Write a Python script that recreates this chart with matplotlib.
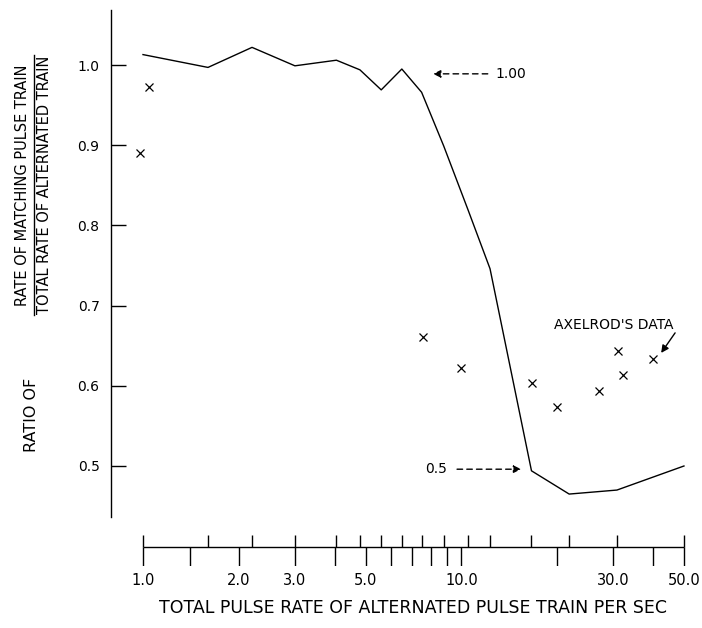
import matplotlib
matplotlib.use("Agg")
import matplotlib.pyplot as plt
from matplotlib.lines import Line2D

# curve: ratio of matching rate vs total alternated pulse rate
pulse_rate = [1.0, 1.6, 2.2, 3.0, 4.05, 4.8, 5.6, 6.5, 7.5, 8.8, 10.5, 12.3, 16.6, 21.8, 30.8, 50.0]
ratio = [1.013, 0.997, 1.022, 0.999, 1.006, 0.994, 0.969, 0.995, 0.966, 0.899, 0.819, 0.746, 0.494, 0.465, 0.470, 0.500]

# Axelrod's data points
axelrod_rate = [0.98, 1.044, 7.6, 10.0, 16.7, 20.0, 27.1, 31.1, 32.2, 40.1]
axelrod_ratio = [0.890, 0.972, 0.661, 0.622, 0.604, 0.574, 0.593, 0.643, 0.613, 0.633]

# lower scale ticks
down_ticks = [1.0, 1.4, 2.0, 3.0, 4.0, 5.0, 6.0, 7.0, 8.0, 9.0, 10.0, 20.0, 30.0, 40.0, 50.0]
label_ticks = [1.0, 2.0, 3.0, 5.0, 10.0, 30.0, 50.0]
label_text = ["1.0", "2.0", "3.0", "5.0", "10.0", "30.0", "50.0"]
y_ticks = [0.5, 0.6, 0.7, 0.8, 0.9, 1.0]

W, H = 702, 628
px0, per_dec = 143.0, 318.4          # pixel of x=1 and pixels per decade
left_px, right_px = 110.7, 700.0
xlim = (10 ** ((left_px - px0) / per_dec), 10 ** ((right_px - px0) / per_dec))

fig = plt.figure(figsize=(W / 100, H / 100), dpi=100)
ax = fig.add_axes([left_px / W, (H - 517) / H, (right_px - left_px) / W, 507 / H])
ax.set_xscale("log")
ax.set_xlim(*xlim)
ax.set_ylim(0.4364, 1.0686)

ax.plot(pulse_rate, ratio, color="black", lw=1.0)
ax.plot(axelrod_rate, axelrod_ratio, ls="none", marker="x", ms=6, mew=0.9, color="black")

for s in ["top", "right", "bottom"]:
    ax.spines[s].set_visible(False)
ax.spines["left"].set_linewidth(1.0)
ax.set_xticks([])
ax.minorticks_off()
ax.set_yticks(y_ticks, [f"{v:.1f}" for v in y_ticks])
ax.tick_params(axis="y", direction="in", length=11, width=1.0, pad=8, labelsize=10)

# annotations
ax.annotate("", xy=(8.15, 0.989), xytext=(12.1, 0.989),
            arrowprops=dict(arrowstyle="-|>", linestyle=(0, (4, 3)), color="black",
                            lw=1.0, shrinkA=0, shrinkB=0, mutation_scale=11))
ax.text(12.75, 0.989, "1.00", ha="left", va="center", fontsize=10)

ax.annotate("", xy=(15.4, 0.496), xytext=(9.69, 0.496),
            arrowprops=dict(arrowstyle="-|>", linestyle=(0, (4, 3)), color="black",
                            lw=1.0, shrinkA=0, shrinkB=0, mutation_scale=11))
ax.text(9.01, 0.496, "0.5", ha="right", va="center", fontsize=10)

ax.text(30.2, 0.676, "AXELROD'S DATA", ha="center", va="center", fontsize=10)
ax.annotate("", xy=(42.4, 0.641), xytext=(46.9, 0.666),
            arrowprops=dict(arrowstyle="-|>", color="black", lw=1.0,
                            shrinkA=0, shrinkB=0, mutation_scale=11))

# y label as a fraction
fig.text(23 / W, 1 - 185 / H, "RATE OF MATCHING PULSE TRAIN", rotation=90,
         ha="center", va="center", fontsize=10.5)
fig.text(45 / W, 1 - 185 / H, "TOTAL RATE OF ALTERNATED TRAIN", rotation=90,
         ha="center", va="center", fontsize=10.5)
fig.add_artist(Line2D([34 / W, 34 / W], [1 - 55 / H, 1 - 315 / H], color="black", lw=1.0))
fig.text(31 / W, 1 - 415 / H, "RATIO OF", rotation=90, ha="center", va="center", fontsize=11.5)

# lower rate scale
ax2 = fig.add_axes([left_px / W, (H - 566) / H, (right_px - left_px) / W, 31 / H])
ax2.set_xscale("log")
ax2.set_xlim(*xlim)
ax2.set_ylim(-19, 12)
ax2.hlines(0, pulse_rate[0], pulse_rate[-1], color="black", lw=1.0)
ax2.vlines(pulse_rate, 0, 12, color="black", lw=1.0)
ax2.vlines(down_ticks, -19, 0, color="black", lw=1.0)
for s in ax2.spines.values():
    s.set_visible(False)
ax2.set_yticks([])
ax2.set_xticks(label_ticks, label_text)
ax2.minorticks_off()
ax2.tick_params(axis="x", length=0, pad=5, labelsize=10.5)
ax2.set_xlabel("TOTAL PULSE RATE OF ALTERNATED PULSE TRAIN PER SEC", fontsize=12.5, labelpad=9)
ax2.xaxis.set_label_coords(0.513, -1.05)

fig.savefig("out.png", dpi=100)
